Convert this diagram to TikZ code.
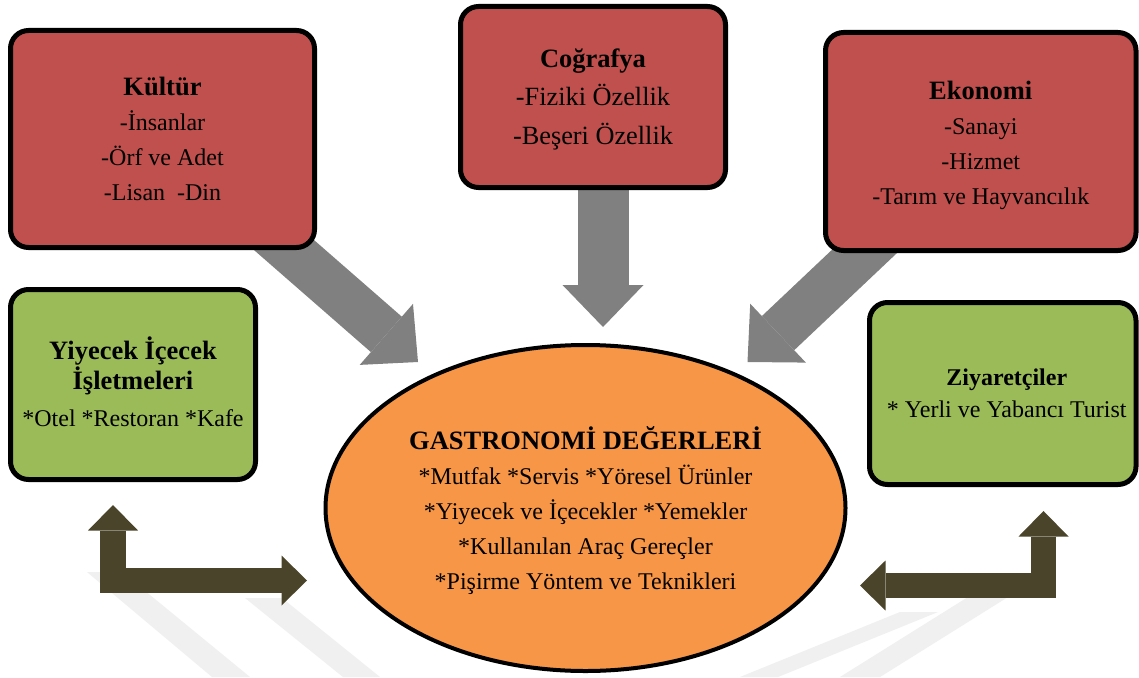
\documentclass[tikz,border=0pt]{standalone}
\usepackage{fontspec}
\setmainfont{Liberation Serif}
\usetikzlibrary{shapes.geometric,arrows.meta}
\pgfdeclarelayer{mark}
\pgfdeclarelayer{under}
\pgfsetlayers{mark,under,main}

\definecolor{boxred}{HTML}{C0504D}
\definecolor{boxgreen}{HTML}{9BBB59}
\definecolor{ovalorange}{HTML}{F79646}
\definecolor{arrowgray}{HTML}{808080}
\definecolor{arrowolive}{HTML}{4A452A}
\definecolor{markgray}{HTML}{F0F0F0}

\tikzset{
  card/.style={draw=black, line width=5pt, rounded corners=18pt, inner sep=0pt,
    align=center, font=\fontsize{24}{35}\selectfont},
  redcard/.style={card, fill=boxred},
  greencard/.style={card, fill=boxgreen},
  hub/.style={ellipse, draw=black, line width=4pt, fill=ovalorange, inner sep=0pt,
    align=center, font=\fontsize{24}{35}\selectfont},
  feed/.style={draw=arrowgray, line width=47pt,
    -{Triangle[width=81pt,length=42pt,line width=0pt]}},
  link/.style={draw=arrowolive, line width=25.5pt, line join=miter,
    {Triangle[width=50pt,length=25.5pt,line width=0pt]}-{Triangle[width=50pt,length=25.5pt,line width=0pt]}},
  band/.style={fill=markgray},
}
\newcommand\ttl[1]{{\fontsize{26.5}{35}\selectfont\bfseries #1}}

\begin{document}
\begin{tikzpicture}[x=1pt,y=-1pt]
\useasboundingbox (0,0) rectangle (1139,677);

% faint background bands
\begin{pgfonlayer}{mark}
  \fill[white] (0,0) rectangle (1139,677);
  \fill[band] (87,572) -- (122,572) -- (250,677) -- (212,677) -- cycle;
  \fill[band] (245,598) -- (282,598) -- (380,677) -- (343,677) -- cycle;
  \fill[band] (968,597) -- (1008,597) -- (880,677) -- (840,677) -- cycle;
  \fill[band] (900,612) -- (938,612) -- (778,677) -- (740,677) -- cycle;
\end{pgfonlayer}

% influence boxes
\node[redcard, minimum width=304pt, minimum height=217pt] (kultur) at (162.5,139)
  {\ttl{Kültür}\\-İnsanlar\\-Örf ve Adet\\-Lisan\ \ -Din};
\node[redcard, minimum width=265pt, minimum height=181pt,
      font=\fontsize{26.3}{38.5}\selectfont] (cografya) at (593,97)
  {\rule{0pt}{23pt}\ttl{Coğrafya}\\-Fiziki Özellik\\-Beşeri Özellik};
\node[redcard, minimum width=310.5pt, minimum height=218pt] (ekonomi) at (980.75,141.5)
  {\rule{0pt}{26pt}\ttl{Ekonomi}\\-Sanayi\\-Hizmet\\-Tarım ve Hayvancılık};

% side boxes
\node[greencard, minimum width=245pt, minimum height=190pt,
      font=\fontsize{24}{27}\selectfont] (isletme) at (133,384.5)
  {\ttl{Yiyecek İçecek}\\\ttl{İşletmeleri}\\[10pt]{}*Otel *Restoran *Kafe\rule[-6pt]{0pt}{1pt}};
\node[greencard, minimum width=266.5pt, minimum height=182pt,
      font=\fontsize{24}{32}\selectfont] (ziyaret) at (1002.75,393.5)
  {\hspace*{8pt}{\bfseries Ziyaretçiler}\\\hspace*{8pt}{}* Yerli ve Yabancı Turist};

% central values
\node[hub, minimum width=520pt, minimum height=326pt] (deger) at (585.5,508)
  {\rule{0pt}{29pt}\ttl{GASTRONOMİ DEĞERLERİ}\\{}*Mutfak *Servis *Yöresel Ürünler\\{}*Yiyecek ve İçecekler *Yemekler\\{}*Kullanılan Araç Gereçler\\{}*Pişirme Yöntem ve Teknikleri};

% arrow end points
\coordinate (tipA) at (418,362);
\coordinate (tipB) at (603,327);
\coordinate (tipC) at (747.5,362);
\coordinate (lu) at (113,505);
\coordinate (lc) at (113,580.5);
\coordinate (lr) at (307,580.5);
\coordinate (ru) at (1043.5,511);
\coordinate (rc) at (1043.5,585.5);
\coordinate (rl) at (860,585.5);

\begin{pgfonlayer}{under}
  \draw[feed] (kultur.center) -- (tipA);
  \draw[feed, line width=51pt] (cografya.center -| tipB) -- (tipB);
  \draw[feed] (ekonomi.center) -- (tipC);
\end{pgfonlayer}

\draw[link] (lu) -- (lc) -- (lr);
\draw[link] (ru) -- (rc) -- (rl);
\end{tikzpicture}
\end{document}
